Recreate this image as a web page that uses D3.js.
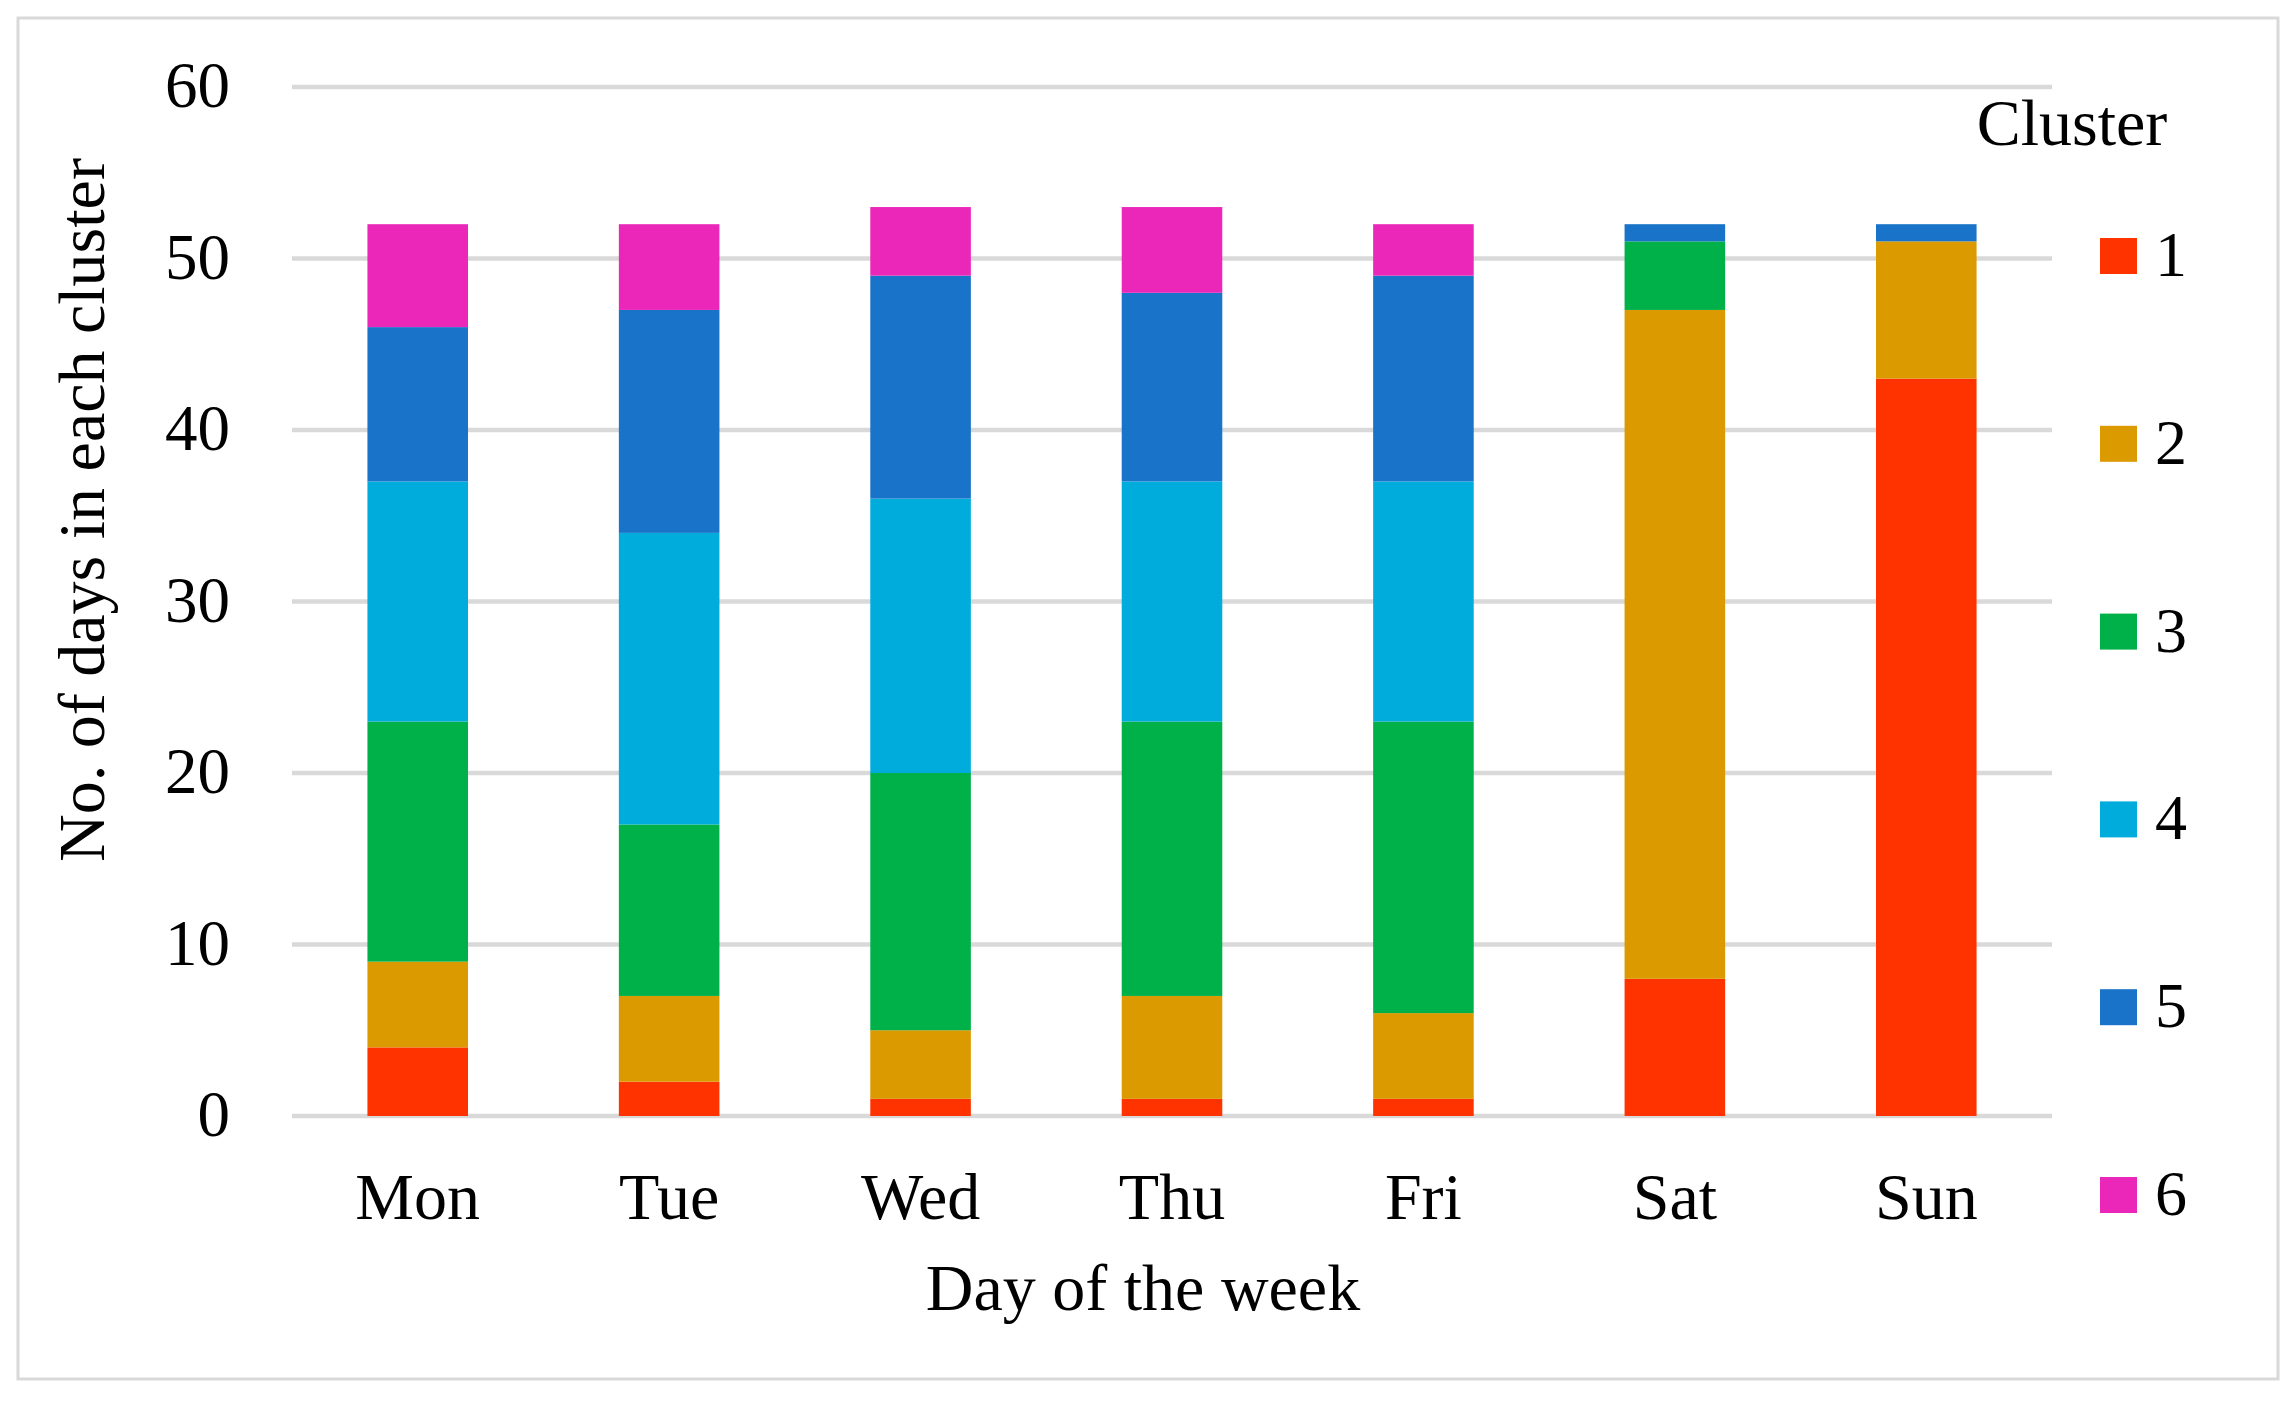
<!DOCTYPE html>
<html>
<head>
<meta charset="utf-8">
<script src="https://cdn.jsdelivr.net/npm/d3@7"></script>
<style>
  body { margin: 0; background: #fff; }
  svg text { font-family: 'Liberation Serif', 'DejaVu Serif', serif; fill: #000; }
</style>
</head>
<body>
<div id="chart"></div>
<script>
"use strict";
// data
const days = ['Mon', 'Tue', 'Wed', 'Thu', 'Fri', 'Sat', 'Sun'];
const clusters = ['1', '2', '3', '4', '5', '6'];
const cluster1 = [4, 2, 1, 1, 1, 8, 43];
const cluster2 = [5, 5, 4, 6, 5, 39, 8];
const cluster3 = [14, 10, 15, 16, 17, 4, 0];
const cluster4 = [14, 17, 16, 14, 14, 0, 0];
const cluster5 = [9, 13, 13, 11, 12, 1, 1];
const cluster6 = [6, 5, 4, 5, 3, 0, 0];
const yTicks = [0, 10, 20, 30, 40, 50, 60];
const colors = ['#FF3300', '#DB9A00', '#00B14A', '#00ACDB', '#1973C8', '#EA27B9'];

const W = 2296, H = 1408;
const margin = { left: 292, right: 244, top: 87, bottom: 292 };

let series = [cluster1, cluster2, cluster3, cluster4, cluster5, cluster6];
let rows = days.map(function (d, i) {
    let r = { day: d };
    clusters.forEach(function (c, k) { r[c] = series[k][i]; });
    return r;
});

let svg = d3.select('#chart')
    .append('svg')
    .attr('width', W)
    .attr('height', H)
    .attr('viewBox', '0 0 ' + W + ' ' + H);

// outer frame
svg.append('rect')
    .attr('x', 18).attr('y', 18)
    .attr('width', W - 36).attr('height', H - 47)
    .attr('fill', '#fff')
    .attr('stroke', '#d9d9d9')
    .attr('stroke-width', 3);

const x = d3.scaleBand()
    .domain(days)
    .range([margin.left, W - margin.right])
    .paddingInner(0.6)
    .paddingOuter(0.3);
const y = d3.scaleLinear()
    .domain([0, 60])
    .range([H - margin.bottom, margin.top]);

// gridlines
svg.append('g')
    .selectAll('line')
    .data(yTicks)
    .enter()
    .append('line')
    .attr('x1', margin.left)
    .attr('x2', W - margin.right)
    .attr('y1', d => y(d))
    .attr('y2', d => y(d))
    .attr('stroke', '#d9d9d9')
    .attr('stroke-width', 4.5);

// y axis labels
let yAxis = svg.append('g')
    .attr('transform', 'translate(' + (margin.left - 62) + ',0)')
    .call(d3.axisLeft(y).tickValues(yTicks).tickSize(0).tickPadding(0));
yAxis.select('.domain').remove();
yAxis.selectAll('text')
    .style('font-family', "'Liberation Serif', serif")
    .style('font-size', '65px')
    .attr('dy', '0.3em');

// x axis labels
let xAxis = svg.append('g')
    .attr('transform', 'translate(0,' + (H - margin.bottom) + ')')
    .call(d3.axisBottom(x).tickSize(0).tickPadding(0));
xAxis.select('.domain').remove();
xAxis.selectAll('text')
    .style('font-family', "'Liberation Serif', serif")
    .style('font-size', '66px')
    .attr('dy', null)
    .attr('y', 103);

// stacked bars
let stacked = d3.stack().keys(clusters)(rows);
svg.append('g')
    .selectAll('g')
    .data(stacked)
    .enter()
    .append('g')
    .attr('fill', (d, i) => colors[i])
    .selectAll('rect')
    .data(d => d)
    .enter()
    .append('rect')
    .attr('x', d => x(d.data.day))
    .attr('width', x.bandwidth())
    .attr('y', d => y(d[1]))
    .attr('height', d => y(d[0]) - y(d[1]));

// axis titles
svg.append('text')
    .attr('x', 1143)
    .attr('y', 1310)
    .attr('text-anchor', 'middle')
    .style('font-size', '66px')
    .text('Day of the week');

svg.append('text')
    .attr('transform', 'translate(104,510) rotate(-90)')
    .attr('text-anchor', 'middle')
    .style('font-size', '66px')
    .text('No. of days in each cluster');

// legend
let legend = svg.append('g');
legend.append('text')
    .attr('x', 2072)
    .attr('y', 145)
    .attr('text-anchor', 'middle')
    .style('font-size', '66px')
    .text('Cluster');
let items = legend.selectAll('.item')
    .data(clusters)
    .enter()
    .append('g')
    .attr('class', 'item')
    .attr('transform', (d, i) => 'translate(2100,' + (256 + i * 187.8) + ')');
items.append('rect')
    .attr('x', 0).attr('y', -18)
    .attr('width', 37).attr('height', 36)
    .attr('fill', (d, i) => colors[i]);
items.append('text')
    .attr('x', 55)
    .attr('y', 20)
    .style('font-size', '64px')
    .text(d => d);
</script>
</body>
</html>
